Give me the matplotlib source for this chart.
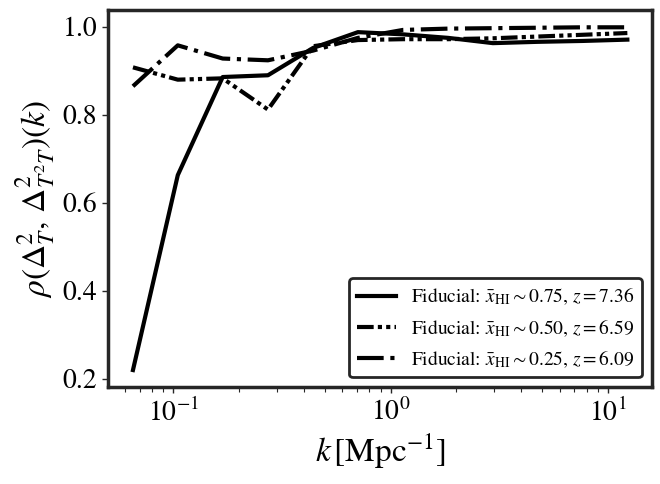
import numpy as np
import matplotlib
matplotlib.use("Agg")
import matplotlib.pyplot as plt

plt.rcParams['font.family'] = ['STIXGeneral', 'DejaVu Serif']
plt.rcParams['mathtext.fontset'] = 'stix'

# k bins [Mpc^-1]
k = [0.0653, 0.105, 0.169, 0.273, 0.440, 0.708,
     1.14, 1.84, 2.96, 4.76, 7.67, 12.3]

# cross-correlation per neutral fraction
rho_075 = [0.220, 0.663, 0.886, 0.890, 0.952, 0.988,
           0.983, 0.975, 0.963, 0.966, 0.968, 0.971]
rho_050 = [0.908, 0.880, 0.883, 0.812, 0.956, 0.970,
           0.972, 0.972, 0.974, 0.978, 0.982, 0.986]
rho_025 = [0.865, 0.958, 0.928, 0.924, 0.946, 0.975,
           0.993, 0.996, 0.997, 0.998, 0.999, 0.999]

labels = [r'Fiducial: $\bar{x}_{\rm HI}\sim 0.75$, $z=7.36$',
          r'Fiducial: $\bar{x}_{\rm HI}\sim 0.50$, $z=6.59$',
          r'Fiducial: $\bar{x}_{\rm HI}\sim 0.25$, $z=6.09$']

edge = '#262626'

fig = plt.figure(figsize=(6.6, 4.84), dpi=100)
ax = fig.add_axes([0.164, 0.2, 0.824, 0.779])

ax.plot(k, rho_075, color='k', lw=3, ls='-', label=labels[0])
ax.plot(k, rho_050, color='k', lw=3, ls=(0, (4, 1, 1, 1, 1, 1)), label=labels[1])
ax.plot(k, rho_025, color='k', lw=3, ls='-.', label=labels[2])

ax.set_xscale('log')
ax.set_xlabel(r'$k\,[\mathrm{Mpc}^{-1}]$', fontsize=24)
ax.set_ylabel(r'$\rho(\Delta^2_{T},\,\Delta^2_{T^2T})(k)$', fontsize=24)
ax.set_yticks([0.2, 0.4, 0.6, 0.8, 1.0])

for s in ax.spines.values():
    s.set_linewidth(2.5)
    s.set_color(edge)
ax.tick_params(axis='both', which='major', labelsize=20, length=4.5, width=1,
               color=edge, direction='out')
ax.tick_params(axis='both', which='minor', length=3.5, width=0.8, color=edge)

leg = ax.legend(loc='lower right', fontsize=14, frameon=True, framealpha=1,
                fancybox=True, edgecolor=edge)
leg.get_frame().set_linewidth(2)

fig.savefig('out.png', dpi=100)
